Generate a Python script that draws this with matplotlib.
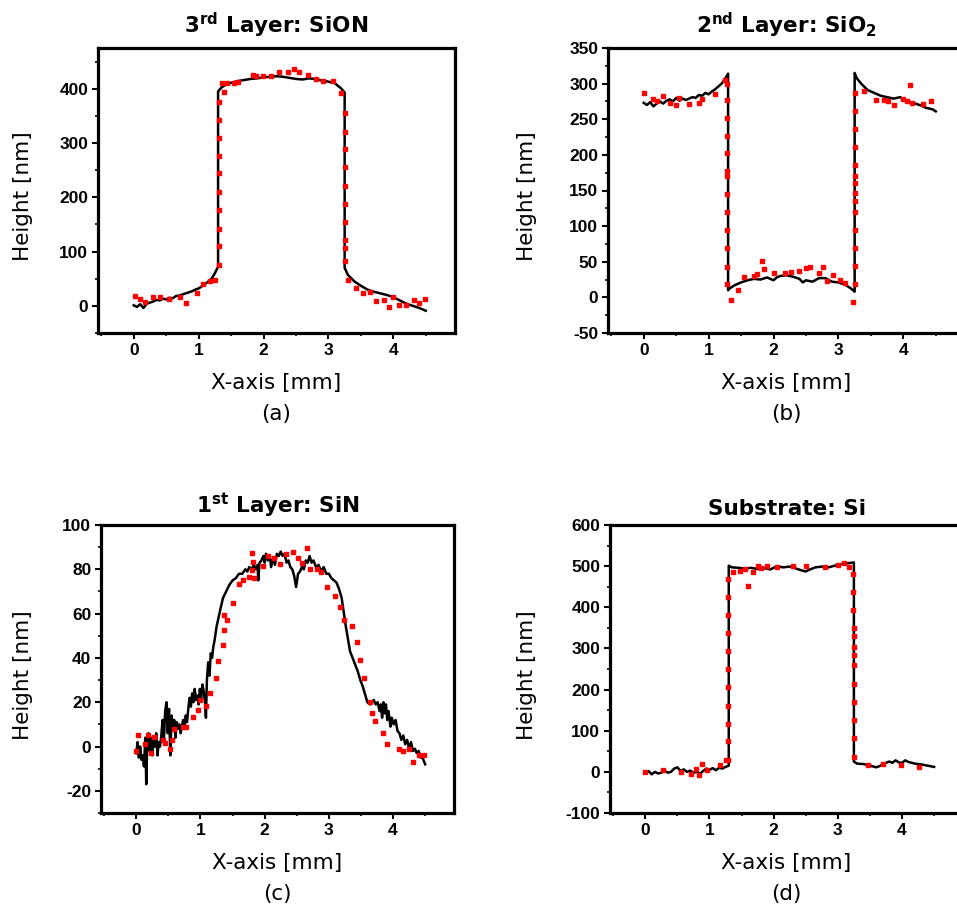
import matplotlib
matplotlib.use("Agg")
import matplotlib.pyplot as plt
from matplotlib.ticker import MultipleLocator

plt.rcParams['mathtext.fontset'] = 'dejavusans'
plt.rcParams['axes.unicode_minus'] = False

# ---- (a) 3rd layer: SiON ----
xa = [0.00, 0.05, 0.10, 0.15, 0.20, 0.25, 0.30, 0.35, 0.40, 0.45, 0.50, 0.55, 0.60, 0.65,
      0.70, 0.75, 0.80, 0.85, 0.90, 0.95, 1.00, 1.05, 1.10, 1.15, 1.20, 1.25, 1.30,
      1.30, 1.35, 1.40, 1.50, 1.60, 1.70, 1.80, 1.90, 2.00, 2.10, 2.20, 2.30, 2.40, 2.50,
      2.60, 2.70, 2.80, 2.90, 3.00, 3.10, 3.15, 3.20, 3.25,
      3.25, 3.30, 3.35, 3.40, 3.50, 3.60, 3.70, 3.80, 3.90, 4.00, 4.10, 4.20, 4.30, 4.40, 4.50]
ya = [1, -2, 3, -4, 4, 6, 8, 11, 10, 13, 12, 15, 14, 18, 19, 21, 23, 25, 27, 30, 32, 36, 40, 45, 50, 60, 72,
      395, 402, 406, 411, 414, 416, 418, 419, 421, 422, 423, 422, 420, 418, 417, 419, 418, 415, 413, 410,
      405, 400, 393,
      70, 57, 51, 45, 37, 30, 26, 23, 20, 16, 10, 4, 0, -4, -9]
xa_red = [0.02, 0.10, 0.17, 0.30, 0.40, 0.55, 0.71, 0.81, 0.97, 1.07, 1.17, 1.26,
          1.31, 1.31, 1.31, 1.31, 1.31, 1.31, 1.31, 1.31, 1.31, 1.31,
          1.36, 1.39, 1.43, 1.54, 1.60, 1.84, 1.89, 1.99, 2.11, 2.24, 2.37, 2.47, 2.55, 2.68,
          2.81, 2.91, 3.07, 3.20,
          3.26, 3.26, 3.26, 3.26, 3.26, 3.26, 3.26, 3.26, 3.26, 3.26,
          3.30, 3.43, 3.54, 3.64, 3.74, 3.86, 3.94, 3.99, 4.09, 4.20, 4.32, 4.40, 4.49]
ya_red = [18, 12, 7, 16, 16, 13, 16, 5, 23, 40, 46, 48,
          75, 110, 142, 176, 210, 244, 276, 310, 343, 375,
          410, 394, 411, 411, 413, 426, 423, 423, 423, 430, 431, 437, 431, 425,
          418, 414, 414, 393,
          355, 321, 289, 255, 221, 188, 154, 122, 106, 82,
          48, 32, 23, 26, 9, 10, -2, 16, 1, 2, 10, 6, 12]

# ---- (b) 2nd layer: SiO2 ----
xb = [0.00, 0.05, 0.10, 0.15, 0.20, 0.25, 0.30, 0.35, 0.40, 0.45, 0.50, 0.55, 0.60, 0.65,
      0.70, 0.75, 0.80, 0.85, 0.90, 0.95, 1.00, 1.05, 1.10, 1.15, 1.20, 1.25, 1.30,
      1.30, 1.33, 1.40, 1.50, 1.60, 1.70, 1.80, 1.90, 2.00, 2.05, 2.10, 2.20, 2.30, 2.40,
      2.45, 2.50, 2.60, 2.70, 2.80, 2.90, 3.00, 3.10, 3.15, 3.20, 3.25,
      3.25, 3.28, 3.35, 3.45, 3.55, 3.65, 3.75, 3.85, 3.95, 4.05, 4.15, 4.25, 4.35, 4.45, 4.50]
yb = [273, 270, 274, 268, 272, 275, 272, 276, 278, 275, 280, 276, 279, 277, 279, 281, 280, 284,
      283, 287, 285, 289, 292, 296, 300, 306, 314,
      10, 13, 17, 21, 24, 26, 25, 28, 24, 28, 30, 31, 29, 26, 21, 24, 22, 27, 27, 22, 21, 18,
      15, 12, 8,
      315, 308, 300, 291, 287, 283, 281, 279, 281, 276, 273, 270, 266, 264, 261]
xb_red = [0.00, 0.15, 0.20, 0.30, 0.40, 0.50, 0.55, 0.70, 0.85, 0.90, 1.10, 1.25, 1.28,
          1.29, 1.29, 1.29, 1.29, 1.29, 1.29, 1.29, 1.29, 1.29, 1.29, 1.29, 1.29,
          1.35, 1.45, 1.55, 1.70, 1.75, 1.82, 1.85, 2.00, 2.17, 2.27, 2.40, 2.50, 2.56,
          2.70, 2.77, 2.82, 2.92, 3.02, 3.10, 3.22,
          3.26, 3.26, 3.26, 3.26, 3.26, 3.26, 3.26, 3.26, 3.26, 3.26, 3.26, 3.26, 3.26, 3.26,
          3.39, 3.58, 3.70, 3.76, 3.86, 3.99, 4.05, 4.11, 4.14, 4.30, 4.42]
yb_red = [287, 278, 275, 282, 273, 270, 280, 272, 273, 278, 285, 305, 300,
          277, 252, 226, 202, 177, 170, 145, 120, 94, 69, 43, 19,
          -3, 10, 28, 30, 33, 51, 40, 34, 34, 36, 37, 41, 43,
          34, 42, 23, 31, 24, 20, -6,
          19, 44, 70, 95, 120, 135, 147, 161, 170, 186, 211, 236, 261, 287,
          289, 277, 277, 276, 270, 278, 276, 298, 273, 272, 275]

# ---- (c) 1st layer: SiN ----
xc = [0.00, 0.02, 0.04, 0.06, 0.08, 0.10, 0.12, 0.14, 0.155, 0.17, 0.19, 0.21, 0.23, 0.25,
      0.27, 0.29, 0.31, 0.33, 0.35, 0.37, 0.39, 0.41, 0.43, 0.45, 0.47, 0.49, 0.51, 0.53,
      0.55, 0.57, 0.59, 0.61, 0.63, 0.65, 0.67, 0.69, 0.71, 0.73, 0.75, 0.77, 0.79, 0.81,
      0.83, 0.85, 0.87, 0.89, 0.91, 0.93, 0.95, 0.97, 0.99, 1.01, 1.03, 1.05, 1.07, 1.085,
      1.10, 1.12, 1.14, 1.16, 1.18, 1.20, 1.22, 1.25, 1.28, 1.31, 1.35, 1.40, 1.45, 1.50,
      1.55, 1.60, 1.65, 1.70, 1.73, 1.76, 1.80, 1.83, 1.86, 1.89, 1.90, 1.92, 1.95, 1.98,
      2.00, 2.02, 2.05, 2.08, 2.10, 2.13, 2.16, 2.19, 2.22, 2.25, 2.28, 2.31, 2.34, 2.37,
      2.40, 2.43, 2.46, 2.49, 2.52, 2.55, 2.58, 2.61, 2.64, 2.67, 2.70, 2.73, 2.76, 2.80,
      2.84, 2.88, 2.92, 2.96, 3.00, 3.04, 3.08, 3.12, 3.16, 3.20, 3.23, 3.26, 3.30, 3.33,
      3.37, 3.41, 3.45, 3.49, 3.53, 3.56, 3.60, 3.64, 3.67, 3.70, 3.73, 3.76, 3.79, 3.81,
      3.83, 3.85, 3.87, 3.89, 3.91, 3.93, 3.96, 3.98, 4.01, 4.04, 4.07, 4.10, 4.13, 4.16,
      4.19, 4.22, 4.25, 4.28, 4.31, 4.34, 4.37, 4.40, 4.43, 4.46, 4.50]
yc = [-3, 2, -5, 0, -6, -4, -9, 4, -17, 0, 6, -2, 4, -4,
      3, 0, 6, -4, 2, 0, 5, 12, 3, 16, 20, 6, 17, -4,
      14, 8, 12, 4, 11, 8, 10, 6, 9, 12, 8, 14, 11, 17,
      22, 18, 24, 20, 26, 21, 23, 19, 26, 22, 28, 25, 20, 13,
      30, 38, 32, 42, 40, 45, 48, 54, 58, 62, 67, 70, 73, 75,
      76, 78, 78, 80, 79, 81, 80, 82, 80, 82, 75, 83, 84, 86,
      83, 87, 84, 86, 81, 85, 82, 87, 86, 88, 86, 87, 83, 84,
      81, 80, 77, 72, 78, 79, 81, 80, 84, 83, 86, 83, 84, 81,
      82, 79, 81, 78, 78, 76, 75, 74, 71, 67, 61, 55, 48, 43,
      40, 37, 34, 30, 27, 24, 20, 19, 20, 21, 19, 20, 16, 19,
      13, 20, 15, 19, 12, 16, 9, 13, 10, 12, 7, 6, 3, 5,
      1, 3, -1, 2, -2, -1, -3, -2, -5, -5, -8]
xc_red = [0.00, 0.03, 0.13, 0.18, 0.23, 0.27, 0.41, 0.44, 0.52, 0.55, 0.59, 0.72, 0.77,
          0.88, 0.96, 0.99, 1.09, 1.15, 1.24, 1.27, 1.35, 1.37, 1.37, 1.42, 1.50, 1.60,
          1.67, 1.75, 1.80, 1.82, 1.80, 1.84, 1.98, 2.05, 2.14, 2.24, 2.34, 2.44, 2.52,
          2.58, 2.66, 2.71, 2.81, 2.88, 2.97, 3.10, 3.18, 3.24, 3.36, 3.44, 3.48, 3.54,
          3.64, 3.68, 3.72, 3.84, 3.91, 4.10, 4.16, 4.25, 4.31, 4.41, 4.49]
yc_red = [-2, 5, 1, 5, -3, 4.5, 3, 1.5, -1, 3, 8, 9, 9,
          13.5, 16.5, 21, 18.5, 24, 31, 38.5, 46, 52.5, 59.5, 57, 65, 73.5,
          75, 76.5, 79.5, 83.5, 87.5, 76, 81.5, 86, 85, 82.5, 87, 88, 85,
          83, 89.5, 80, 80, 79, 72, 68, 63, 57, 54.5, 47, 39, 31,
          20, 15, 11.5, 6, 1, -1, -2, -1, -7, -4, -4]

# ---- (d) substrate: Si ----
xd = [0.00, 0.05, 0.10, 0.15, 0.20, 0.25, 0.30, 0.35, 0.40, 0.45, 0.50, 0.55, 0.60, 0.65,
      0.70, 0.75, 0.80, 0.85, 0.90, 0.95, 1.00, 1.05, 1.10, 1.15, 1.20, 1.25, 1.30,
      1.30, 1.35, 1.45, 1.55, 1.65, 1.75, 1.85, 1.95, 2.05, 2.15, 2.25, 2.35, 2.45, 2.50,
      2.55, 2.65, 2.75, 2.85, 2.95, 3.05, 3.15, 3.25,
      3.25, 3.30, 3.40, 3.50, 3.60, 3.65, 3.75, 3.80, 3.85, 3.90, 3.95, 4.00, 4.05, 4.10,
      4.20, 4.30, 4.40, 4.50]
yd = [-2, 2, -6, 0, -4, -2, 3, -2, 0, 8, 11, 2, 6, 0, 3, -2, 0, -5, 2, 8, 5, 9, 4, 10, 8, 12, 15,
      501, 497, 496, 494, 496, 493, 495, 492, 500, 497, 499, 494, 489, 487, 491, 497, 499, 497,
      501, 505, 507, 509,
      25, 20, 19, 15, 11, 14, 22, 25, 22, 28, 23, 22, 28, 24, 20, 18, 15, 12]
xd_red = [0.00, 0.27, 0.55, 0.71, 0.79, 0.83, 0.89, 0.96, 1.17, 1.25,
          1.29, 1.29, 1.29, 1.29, 1.29, 1.29, 1.29, 1.29, 1.29, 1.29, 1.29,
          1.37, 1.48, 1.55, 1.60, 1.68, 1.75, 1.80, 1.90, 2.05, 2.30, 2.50, 2.80, 3.00,
          3.10, 3.17,
          3.24, 3.24, 3.24, 3.25, 3.25, 3.25, 3.25, 3.25, 3.25, 3.25, 3.25, 3.25, 3.25,
          3.47, 3.71, 3.99, 4.27]
yd_red = [0, 4, 0, -4, 8, -8, 20, 4, 16, 29,
          29, 74, 117, 161, 206, 249, 294, 337, 382, 424, 469,
          486, 488, 492, 452, 486, 501, 495, 500, 498, 500, 500, 498, 502,
          508, 497,
          480, 437, 393, 349, 329, 303, 285, 260, 214, 170, 126, 82, 37,
          16, 18, 16, 13]

panels = [
    # data, red data, ylim, major, minor, rect (px), title, tag, title gap, ylabel gap
    (xa, ya, xa_red, ya_red, (-50, 475), 100, 50, (98, 48, 357, 285),
     r'$\mathbf{3^{rd}}$ Layer: SiON', '(a)', 15, 75),
    (xb, yb, xb_red, yb_red, (-50, 350), 50, 25, (608, 48, 357, 285),
     r'$\mathbf{2^{nd}}$ Layer: SiO$_\mathbf{2}$', '(b)', 15, 81),
    (xc, yc, xc_red, yc_red, (-30, 100), 20, 10, (101, 525, 353, 288),
     r'$\mathbf{1^{st}}$ Layer: SiN', '(c)', 12, 78),
    (xd, yd, xd_red, yd_red, (-100, 600), 100, 50, (610, 525, 353, 288),
     'Substrate: Si', '(d)', 10, 83),
]

W, H = 957, 917
fig = plt.figure(figsize=(W / 100, H / 100), dpi=100)
pt = 0.72  # points per pixel at dpi 100

for x, y, xr, yr, ylim, major, minor, (l, t, w, h), title, tag, tgap, ylgap in panels:
    ax = fig.add_axes([l / W, 1 - (t + h) / H, w / W, h / H])
    ax.plot(x, y, color='black', lw=1.8, zorder=2)
    ax.plot(xr, yr, ls='none', marker='s', ms=2.3, color='red', mec='red', zorder=3)
    ax.set_xlim(-0.55, 4.95)
    ax.set_ylim(*ylim)
    ax.xaxis.set_major_locator(MultipleLocator(1))
    ax.xaxis.set_minor_locator(MultipleLocator(0.5))
    ax.yaxis.set_major_locator(MultipleLocator(major))
    ax.yaxis.set_minor_locator(MultipleLocator(minor))
    ax.set_xticks([0, 1, 2, 3, 4])
    ax.tick_params(which='major', direction='out', length=4, width=1.5, pad=3)
    ax.tick_params(which='minor', direction='out', length=2.5, width=1.2)
    for s in ax.spines.values():
        s.set_linewidth(2.3)
    for lab in ax.get_xticklabels() + ax.get_yticklabels():
        lab.set_fontfamily('Liberation Sans')
        lab.set_fontweight('bold')
        lab.set_fontsize(12.5)

    ax.annotate(title, xy=(0.5, 1), xycoords='axes fraction',
                xytext=(0, tgap * pt), textcoords='offset points',
                ha='center', va='baseline', fontsize=15.5, fontweight='bold')
    ax.annotate('X-axis [mm]', xy=(0.5, 0), xycoords='axes fraction',
                xytext=(0, -50 * pt), textcoords='offset points',
                ha='center', va='center', fontsize=15.5)
    ax.annotate(tag, xy=(0.5, 0), xycoords='axes fraction',
                xytext=(0, -81 * pt), textcoords='offset points',
                ha='center', va='center', fontsize=15.5)
    ax.annotate('Height [nm]', xy=(0, 0.5), xycoords='axes fraction',
                xytext=(-ylgap * pt, -6 * pt), textcoords='offset points',
                ha='center', va='center', rotation=90, fontsize=15.5)

fig.savefig('out.png', dpi=100)
